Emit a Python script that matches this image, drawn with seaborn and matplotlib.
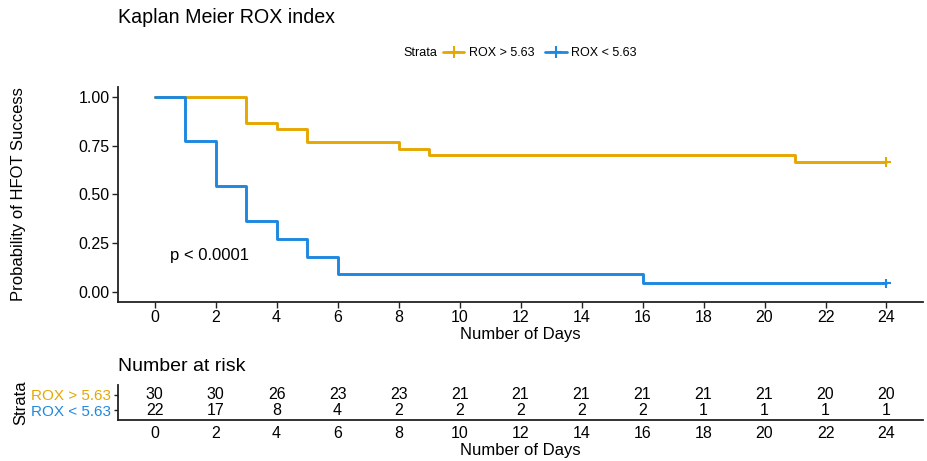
import numpy as np
import pandas as pd
import matplotlib
matplotlib.use("Agg")
import matplotlib.pyplot as plt
import seaborn as sns
from matplotlib.lines import Line2D

sns.set_theme(style="ticks")
plt.rcParams["font.family"] = ["Liberation Sans", "DejaVu Sans"]
plt.rcParams["text.color"] = "black"
plt.rcParams["axes.labelcolor"] = "black"
plt.rcParams["xtick.color"] = "#222222"
plt.rcParams["ytick.color"] = "#222222"
plt.rcParams["xtick.labelcolor"] = "black"
plt.rcParams["ytick.labelcolor"] = "black"

# Kaplan-Meier step estimates per stratum
strata_labels = ["ROX > 5.63", "ROX < 5.63"]
strata_colors = ["#E5A700", "#1E88E0"]

time_high = [0, 3, 4, 5, 8, 9, 21, 24]
surv_high = [1.000, 0.867, 0.833, 0.767, 0.733, 0.700, 0.667, 0.667]

time_low = [0, 1, 2, 3, 4, 5, 6, 16, 24]
surv_low = [1.000, 0.773, 0.545, 0.364, 0.273, 0.182, 0.091, 0.045, 0.045]

# censored observations (end of follow-up)
censor_time = [24, 24]
censor_surv = [0.667, 0.045]

# number-at-risk table
risk_times = [0, 2, 4, 6, 8, 10, 12, 14, 16, 18, 20, 22, 24]
risk_high = [30, 30, 26, 23, 23, 21, 21, 21, 21, 21, 21, 20, 20]
risk_low = [22, 17, 8, 4, 2, 2, 2, 2, 2, 1, 1, 1, 1]

pval_text = "p < 0.0001"

km = pd.concat([
    pd.DataFrame({"time": time_high, "surv": surv_high, "Strata": strata_labels[0]}),
    pd.DataFrame({"time": time_low, "surv": surv_low, "Strata": strata_labels[1]}),
], ignore_index=True)
cens = pd.DataFrame({"time": censor_time, "surv": censor_surv, "Strata": strata_labels})
palette = dict(zip(strata_labels, strata_colors))

fig = plt.figure(figsize=(9.28, 4.61), dpi=100)
ax = fig.add_axes([0.1272, 0.3449, 0.8675, 0.4664])
axr = fig.add_axes([0.1272, 0.0889, 0.8675, 0.0759])

sns.lineplot(data=km, x="time", y="surv", hue="Strata", palette=palette,
             drawstyle="steps-post", estimator=None, sort=False,
             linewidth=2.1, ax=ax, legend=False)
sns.scatterplot(data=cens, x="time", y="surv", hue="Strata", palette=palette,
                marker="+", s=50, linewidth=1.5, ax=ax, legend=False)

xlim = (-1.2, 25.2)
ax.set_xlim(*xlim)
ax.set_ylim(-0.05, 1.05)
ax.set_xticks(risk_times)
ax.set_yticks([0, 0.25, 0.5, 0.75, 1.0])
ax.set_yticklabels(["0.00", "0.25", "0.50", "0.75", "1.00"])
ax.set_xlabel("Number of Days", fontsize=12, labelpad=1)
ax.set_ylabel("Probability of HFOT Success", fontsize=12, labelpad=38)
ax.tick_params(labelsize=11.5, length=4, width=1, pad=2)
for side in ["top", "right"]:
    ax.spines[side].set_visible(False)
for side in ["left", "bottom"]:
    ax.spines[side].set_linewidth(1.3)
    ax.spines[side].set_color("#222222")

ax.text(0.5, 0.19, pval_text, fontsize=12, ha="left", va="center")

fig.text(0.1272, 0.963, "Kaplan Meier ROX index", fontsize=14.1, ha="left", va="center")

handles = [Line2D([0], [0], color=c, lw=2, marker="+", markersize=8, markeredgewidth=1.5)
           for c in strata_colors]
fig.legend(handles, strata_labels, loc="center left", bbox_to_anchor=(0.4774, 0.885),
           ncol=2, frameon=False, fontsize=9, handlelength=1.7, handletextpad=0.35,
           columnspacing=0.9, borderpad=0, borderaxespad=0)
fig.text(0.4709, 0.885, "Strata", fontsize=9, ha="right", va="center")

# risk table
rows = pd.DataFrame({
    "time": risk_times * 2,
    "n": risk_high + risk_low,
    "row": [2] * len(risk_times) + [1] * len(risk_times),
})
for _, r in rows.iterrows():
    axr.text(r["time"], r["row"], str(r["n"]), ha="center", va="center", fontsize=11.5)
axr.set_xlim(*xlim)
axr.set_ylim(0.4, 2.6)
axr.set_xticks(risk_times)
axr.set_yticks([2, 1])
axr.set_yticklabels(strata_labels)
for lbl, c in zip(axr.get_yticklabels(), strata_colors):
    lbl.set_color(c)
axr.set_xlabel("Number of Days", fontsize=12, labelpad=2)
axr.set_ylabel("Strata", fontsize=12, labelpad=2)
axr.tick_params(axis="x", labelsize=11.5, length=0, pad=4)
axr.tick_params(axis="y", labelsize=11, length=3, width=1, pad=2)
for side in ["top", "right"]:
    axr.spines[side].set_visible(False)
for side in ["left", "bottom"]:
    axr.spines[side].set_linewidth(1.3)
    axr.spines[side].set_color("#222222")
fig.text(0.1272, 0.206, "Number at risk", fontsize=14, ha="left", va="center")

fig.savefig("out.png", dpi=100)
